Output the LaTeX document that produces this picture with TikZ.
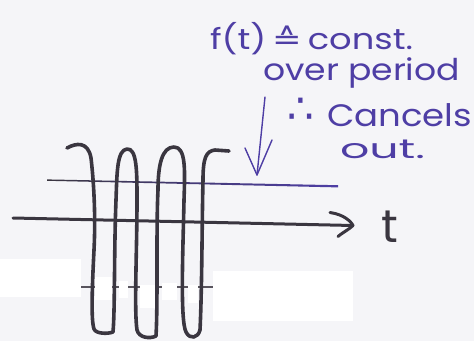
\documentclass[tikz,border=0pt]{standalone}
\usepackage{fontspec}
\usepackage{graphicx}
\newfontfamily\hand{Poppins}
\newfontfamily\symf{DejaVu Sans}
\definecolor{paper}{RGB}{245,245,248}
\definecolor{ink}{RGB}{78,62,165}
\definecolor{pen}{RGB}{58,54,64}
\tikzset{
  wave/.style={draw=pen, line width=3.6pt, line cap=round, line join=round},
  axisline/.style={draw=pen, line width=3pt, line cap=round, line join=round},
  thinline/.style={draw=pen!85, line width=1.3pt},
  inkline/.style={draw=ink, line width=1.4pt, line cap=round, line join=round},
  note/.style={inner sep=0pt, outer sep=0pt, anchor=base west, text=ink},
  patch/.style={fill=white, draw=none}
}
\begin{document}
\begin{tikzpicture}[x=1pt,y=-1pt]
\useasboundingbox (0,0) rectangle (474,341);
\fill[paper] (0,0) rectangle (474,341);
% short horizontal line (partly erased)
\draw[thinline] (81,287) -- (213,287);
% erased patches
\fill[patch] (0,259) rectangle (81,297);
\fill[patch] (213,271) rectangle (353,321);
\fill[patch] (95,277) rectangle (112,300);
\fill[patch] (119,281) rectangle (128,298);
\fill[patch] (140,285) rectangle (156,308);
\fill[patch] (162,283) rectangle (177,300);
\fill[patch] (188,285) rectangle (198,303);
% level line (grey to blue)
\shade[left color=pen, right color=ink, middle color=pen!45!ink] (47,179.4) -- (338,185.2) -- (338,187.4) -- (47,180.8) -- cycle;
% time axis
\coordinate (axstart) at (13,218);
\coordinate (axtip) at (353,225.5);
\draw[axisline] (axstart) -- (axtip);
\draw[axisline] (axtip) ++(-23,-13) .. controls +(14,2) and +(-2,-4) .. (axtip) .. controls +(-4,4) and +(6,-5) .. ++(-15,11);
\node[anchor=base west, inner sep=0pt, text=pen] (tlabel) at (381,242) {\fontsize{46}{46}\selectfont\hand t};
% oscillating function
\draw[wave] (67,148) .. controls (76,143) and (88,141) .. (91,158)
 .. controls (93,175) and (96,210) .. (94,250)
 .. controls (92,290) and (91,320) .. (94,329)
 .. controls (96,334) and (108,334) .. (113,332)
 .. controls (115,310) and (114,250) .. (116,200)
 .. controls (117,172) and (117,150) .. (127,149)
 .. controls (137,148) and (137,172) .. (137,200)
 .. controls (137,250) and (134,310) .. (137,330)
 .. controls (139,338) and (150,339) .. (156,336)
 .. controls (158,300) and (156,230) .. (158,190)
 .. controls (158,165) and (162,147) .. (174,147)
 .. controls (186,147) and (185,170) .. (184,200)
 .. controls (183,250) and (180,320) .. (186,332)
 .. controls (190,340) and (198,338) .. (200,330)
 .. controls (202,290) and (202,220) .. (203,180)
 .. controls (203,158) and (206,151) .. (215,150)
 -- (229,151);
% annotation
\node[note] (l1) at (210,49) {\resizebox{203pt}{\height}{\fontsize{29}{29}\selectfont\hand f(t)\,{\symf ≙}\,const.}};
\node[note] (l2) at (263,80) {\resizebox{197pt}{\height}{\fontsize{30}{30}\selectfont\hand over period}};
\node[note] (l3a) at (287,123) {\fontsize{42}{42}\selectfont\symf ∴};
\node[note] (l3) at (327,126) {\resizebox{145pt}{\height}{\fontsize{31}{31}\selectfont\hand Cancels}};
\node[note] (l4) at (340,158) {\resizebox{85pt}{\height}{\fontsize{27}{27}\selectfont\hand out.}};
% arrow to the level line
\coordinate (arrtop) at (265,97);
\coordinate (arrtip) at (257,175);
\draw[inkline] (arrtop) -- (arrtip);
\draw[inkline] (arrtip) ++(-12,-27) -- (arrtip) -- ++(15,-35);
\end{tikzpicture}
\end{document}
